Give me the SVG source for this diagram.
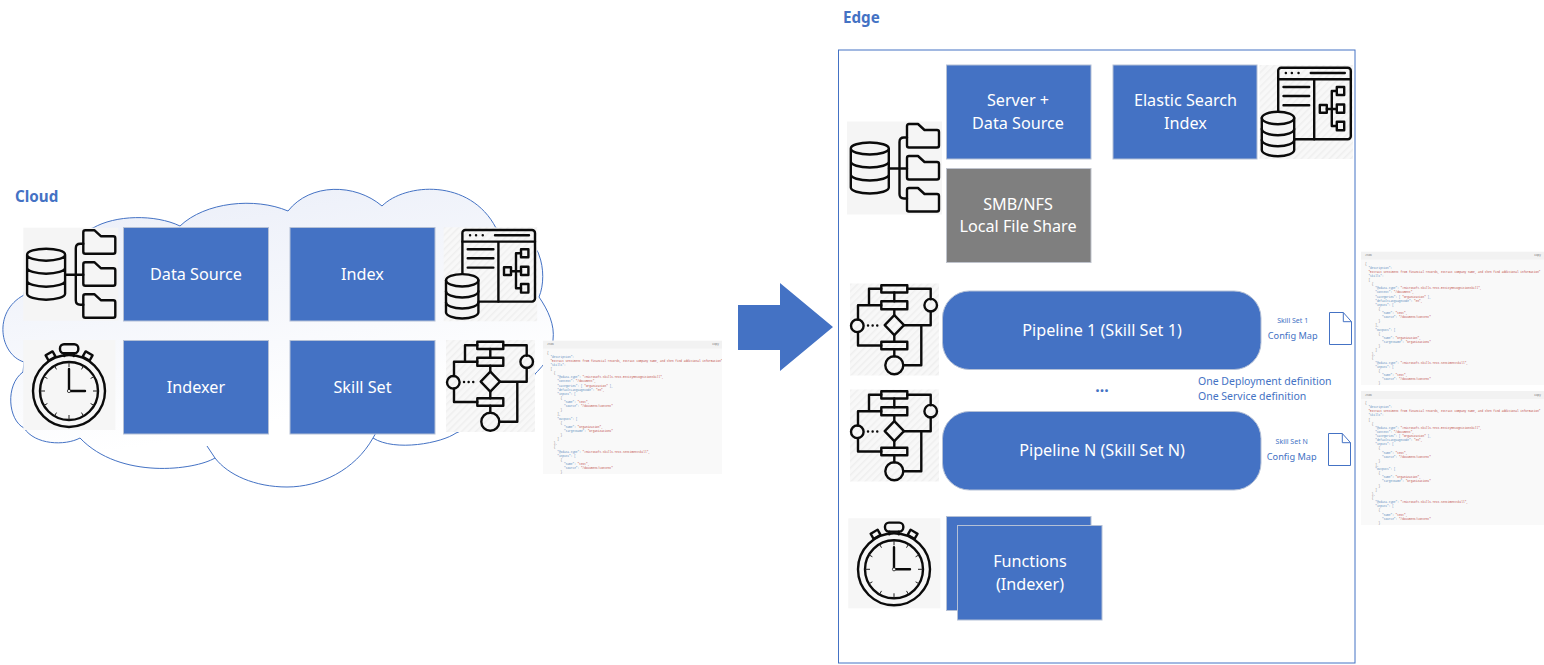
<svg xmlns="http://www.w3.org/2000/svg" xmlns:xlink="http://www.w3.org/1999/xlink" width="1544" height="665" viewBox="0 0 1544 665">
<style>
text{font-family:"Noto Sans","Open Sans","Liberation Sans",sans-serif}
.box{fill:#4472c4;stroke:#b4c0d6;stroke-width:1}
.grey{fill:#7f7f7f;stroke:#bfc3cc;stroke-width:1}
.lbl{fill:#fff;font-size:16.2px;text-anchor:middle}
.head{fill:#4472c4;font-size:15.200px;font-weight:700}
.note{fill:#4472c4;text-anchor:middle}
.ic{fill:none;stroke:#0b0b0b;stroke-width:2.4;stroke-linecap:round;stroke-linejoin:round}
.icf{fill:#f5f5f5;stroke:#0b0b0b;stroke-width:2.4;stroke-linejoin:round}
.thin{fill:none;stroke:#4472c4;stroke-width:1}
.doc{fill:#fff;stroke:#4472c4;stroke-width:1}
.js{font-family:"Liberation Mono",monospace;font-size:2.82px;fill:#777}
.k{fill:#5b8cbd}.s{fill:#bd4a46}
</style>
<defs>
<linearGradient id="cloudFill" x1="0" y1="0" x2="0.35" y2="1"><stop offset="0" stop-color="#e9edf8"/><stop offset="0.85" stop-color="#ffffff"/></linearGradient>
<pattern id="hatch" width="5" height="5" patternUnits="userSpaceOnUse" patternTransform="rotate(45)"><rect width="5" height="5" fill="#f8f8f8"/><rect width="1.5" height="5" fill="#efefef"/></pattern>
<symbol id="dbFolders" overflow="visible">
<rect width="95" height="93" fill="#f5f5f5"/>
<path class="icf" d="M60,4.500q0-2 2-2h9l6.500,6h12.500q2 0 2 2v13.500q0 2-2 2h-28q-2 0-2-2z"/>
<path class="icf" d="M60,36.500q0-2 2-2h9l6.500,6h12.500q2 0 2 2v13.500q0 2-2 2h-28q-2 0-2-2z"/>
<path class="icf" d="M60,68.500q0-2 2-2h9l6.500,6h12.500q2 0 2 2v13.500q0 2-2 2h-28q-2 0-2-2z"/>
<path class="ic" d="M42,47H60M60,16H57q-4.500 0-4.500 4.500V72.500q0 4.500 4.500 4.500H60"/>
<path class="ic" d="M3.800,27a19,6 0 0 1 38,0V66a19,6 0 0 1-38,0ZM3.800,27a19,6 0 0 0 38,0M3.800,40a19,6 0 0 0 38,0M3.800,53a19,6 0 0 0 38,0"/>
</symbol>
<symbol id="indexDb" overflow="visible">
<rect width="93.500" height="94" fill="url(#hatch)"/>
<rect class="ic" x="18.700" y="2.700" width="72.600" height="71.600" rx="3"/>
<path class="ic" d="M18.700,14.300H91.300M54.700,14.300V74.300M24,22H49.700M24,31H49.700M24,40.300H49.700M51.300,8H85.300"/>
<path class="ic" stroke-width="3" d="M26.300,8h.1M32.300,8h.1M39,8h.1"/>
<path class="ic" d="M67.300,44H77.300M72.300,26V61M72.300,26H77.300M72.300,61H77.300"/>
<rect class="ic" x="60.300" y="40" width="7" height="7.700"/><rect class="ic" x="77.300" y="22" width="7.400" height="8"/><rect class="ic" x="77.300" y="39.500" width="7.400" height="8.200"/><rect class="ic" x="77.300" y="56.700" width="7.400" height="8.600"/>
<path class="icf" d="M2.300,53a16.200,6.200 0 0 1 32.400,0V85a16.200,6.200 0 0 1-32.400,0Z"/>
<path class="ic" d="M2.300,53a16.200,6.200 0 0 0 32.400,0M2.300,64a16.200,6.200 0 0 0 32.400,0M2.300,75a16.200,6.200 0 0 0 32.400,0"/>
</symbol>
<symbol id="skillFlow" overflow="visible">
<rect width="89" height="92" fill="url(#hatch)"/>
<path class="ic" d="M31.300,5.300H19V21.700M31.300,21.700H8V36M8,48.500V62H31.300M57.300,5.300H80.700V15.700M80.700,28V41.700H54M71.300,41.700V81.700H53.300M44.300,9V17.700M44.300,25.700V31.700M44.300,51.700V58.300M44.300,65.700V72.700"/>
<path class="ic" stroke-dasharray="0.100 4.500" d="M18,42H29"/>
<rect class="ic" x="31.300" y="1.700" width="26" height="7.300"/><rect class="ic" x="31.300" y="17.700" width="26" height="8"/><rect class="ic" x="31.300" y="58.300" width="26" height="7.400"/>
<path class="ic" d="M44.300,31.700L54,41.700L44.300,51.700L34.700,41.700Z"/>
<circle class="ic" cx="44.300" cy="81.700" r="9"/><circle class="ic" cx="80.700" cy="21.700" r="6.300"/><circle class="ic" cx="7.300" cy="42.300" r="6.300"/>
</symbol>
<symbol id="watch" overflow="visible">
<rect width="92" height="90" fill="#f6f6f6"/>
<rect class="ic" x="36.700" y="4.300" width="18.300" height="9" rx="4"/>
<path class="ic" d="M41,13.300V16M50.500,13.300V16"/>
<rect class="ic" x="-4" y="-3" width="8" height="6" transform="translate(27.300 16) rotate(-30)"/>
<rect class="ic" x="-4" y="-3" width="8" height="6" transform="translate(64.300 16) rotate(30)"/>
<circle class="ic" cx="45.700" cy="51" r="36"/><circle class="ic" cx="45.700" cy="51" r="29"/>
<g transform="translate(45.700 51)" stroke="#222" stroke-width="1" fill="none"><path d="M0,-29V-24M0,29V24M-29,0H-24M29,0H24M14.500,-25.100L12.500,-21.600M25.100,-14.500L21.600,-12.500M25.100,14.500L21.600,12.500M14.500,25.100L12.500,21.600M-14.500,25.100L-12.500,21.600M-25.100,14.500L-21.600,12.500M-25.100,-14.500L-21.600,-12.500M-14.500,-25.100L-12.500,-21.600"/></g>
<path class="ic" d="M45.700,29V49.500M47.200,51H61.700"/>
<circle cx="45.700" cy="51" r="1.600" fill="#fff" stroke="#111" stroke-width="0.800"/>
</symbol>
<symbol id="jsonPanel">
<rect width="100%" height="100%" fill="#f9f9f9"/>
<rect width="100%" height="8" fill="#f2f2f2"/>
<text class="js" x="4" y="4.800">JSON</text>
<text class="js" x="100%" y="4.800" dx="-3" text-anchor="end">Copy</text>
<text class="js">
<tspan x="4" y="13">{</tspan>
<tspan x="7.400" y="17.130" class="k">"description":</tspan>
<tspan x="7.400" y="21.260" class="s">"Extract sentiment from financial records, extract company name, and then find additional information"</tspan>
<tspan x="7.400" y="25.390" class="k">"skills":</tspan>
<tspan x="7.400" y="29.520">[</tspan>
<tspan x="10.800" y="33.650">{</tspan>
<tspan x="14.200" y="37.780" class="k">"@odata.type": <tspan class="s">"#Microsoft.Skills.Text.EntityRecognitionSkill",</tspan></tspan>
<tspan x="14.200" y="41.910" class="k">"context": <tspan class="s">"/document",</tspan></tspan>
<tspan x="14.200" y="46.040" class="k">"categories": [ <tspan class="s">"Organization"</tspan> ],</tspan>
<tspan x="14.200" y="50.170" class="k">"defaultLanguageCode": <tspan class="s">"en",</tspan></tspan>
<tspan x="14.200" y="54.300" class="k">"inputs": [</tspan>
<tspan x="17.600" y="58.430">{</tspan>
<tspan x="21" y="62.560" class="k">"name": <tspan class="s">"text",</tspan></tspan>
<tspan x="21" y="66.690" class="k">"source": <tspan class="s">"/document/content"</tspan></tspan>
<tspan x="17.600" y="70.820">}</tspan>
<tspan x="14.200" y="74.950">],</tspan>
<tspan x="14.200" y="79.080" class="k">"outputs": [</tspan>
<tspan x="17.600" y="83.210">{</tspan>
<tspan x="21" y="87.340" class="k">"name": <tspan class="s">"organization",</tspan></tspan>
<tspan x="21" y="91.470" class="k">"targetName": <tspan class="s">"organizations"</tspan></tspan>
<tspan x="17.600" y="95.600">}</tspan>
<tspan x="14.200" y="99.730">]</tspan>
<tspan x="10.800" y="103.860">},</tspan>
<tspan x="10.800" y="107.990">{</tspan>
<tspan x="14.200" y="112.120" class="k">"@odata.type": <tspan class="s">"#Microsoft.Skills.Text.SentimentSkill",</tspan></tspan>
<tspan x="14.200" y="116.250" class="k">"inputs": [</tspan>
<tspan x="17.600" y="120.380">{</tspan>
<tspan x="21" y="124.510" class="k">"name": <tspan class="s">"text",</tspan></tspan>
<tspan x="21" y="128.640" class="k">"source": <tspan class="s">"/document/content"</tspan></tspan>
<tspan x="17.600" y="132.770">}</tspan>
</text>
</symbol>
</defs>
<rect width="1544" height="665" fill="#fff"/>

<g id="cloud">
<path fill="url(#cloudFill)" stroke="#4472c4" stroke-width="1" d="M24,295C27,255 60,236 93,228C115,215 155,214 180,226C205,202 255,197 288,211C310,183 355,183 382,206C405,183 470,178 496,228C515,232 537,245 539,255C544,268 544,285 539,297C548,310 555,325 553,340C553,350 549,360 535,374C530,395 500,415 456,433C442,443 395,452 373,438C355,470 320,487 287,487C255,487 228,475 215,458C195,470 120,480 80,438C65,446 35,445 24,428C8,420 5,385 23,372L24,362C0,355 -8,312 24,295Z"/>
<path class="thin" d="M215,458L207,446M373,438L377,431"/>
</g>
<text id="cloud-label" class="head" x="15" y="202">Cloud</text>

<g id="data-source-icon"><use href="#dbFolders" x="23.300" y="227.700"/></g>
<g id="data-source"><rect class="box" x="123.500" y="227.500" width="145" height="93.500"/><text class="lbl" x="196" y="280">Data Source</text></g>
<g id="index"><rect class="box" x="290" y="227.500" width="145" height="93.500"/><text class="lbl" x="362.500" y="280">Index</text></g>
<g id="index-icon"><use href="#indexDb" x="443.700" y="227.300"/></g>
<g id="indexer-icon"><use href="#watch" x="23.300" y="340"/></g>
<g id="indexer"><rect class="box" x="123.500" y="340.500" width="145" height="93.500"/><text class="lbl" x="196" y="393">Indexer</text></g>
<g id="skill-set"><rect class="box" x="290" y="340.500" width="145" height="93.500"/><text class="lbl" x="362.500" y="393">Skill Set</text></g>
<g id="skill-set-icon"><use href="#skillFlow" x="446" y="340"/></g>
<g id="skill-set-json"><use href="#jsonPanel" x="543" y="340.500" width="179" height="133.500"/></g>

<g id="connectors">
<path fill="#4472c4" d="M738,305H780V283L833,327L780,371V350H738Z"/>
</g>

<text id="edge-label" class="head" x="843" y="23">Edge</text>
<g id="edge"><rect x="838.500" y="50" width="516.500" height="613" fill="#fff" stroke="#4472c4" stroke-width="1"/></g>

<g id="edge-data-icon"><use href="#dbFolders" x="847" y="121.500"/></g>
<g id="server-data-source"><rect class="box" x="946.500" y="65" width="144.500" height="94"/><text class="lbl" x="1018" y="106">Server +</text><text class="lbl" x="1018" y="129">Data Source</text></g>
<g id="smb-nfs"><rect class="grey" x="946.500" y="168.500" width="144.500" height="94"/><text class="lbl" x="1018" y="210">SMB/NFS</text><text class="lbl" x="1018" y="232">Local File Share</text></g>
<g id="elastic-search-index"><rect class="box" x="1113" y="65" width="144" height="94"/><text class="lbl" x="1185.500" y="106">Elastic Search</text><text class="lbl" x="1185.500" y="129">Index</text></g>
<g id="edge-index-icon"><use href="#indexDb" x="1259.500" y="65"/></g>

<g id="pipeline-1-icon"><use href="#skillFlow" x="850" y="283.500"/></g>
<g id="pipeline-1"><rect class="box" x="942.500" y="291" width="318.500" height="78.500" rx="27"/><text class="lbl" x="1102" y="336">Pipeline 1 (Skill Set 1)</text></g>
<text id="ellipsis" x="1102" y="392" fill="#4472c4" font-size="16" font-weight="700" text-anchor="middle">...</text>
<g id="pipeline-n-icon"><use href="#skillFlow" x="850" y="389.500"/></g>
<g id="pipeline-n"><rect class="box" x="942.500" y="411.500" width="318.500" height="78.500" rx="27"/><text class="lbl" x="1102" y="456">Pipeline N (Skill Set N)</text></g>

<g id="deployment-note"><text fill="#4472c4" font-size="10.500" x="1198" y="384.500">One Deployment definition</text><text fill="#4472c4" font-size="10.500" x="1198" y="399.500">One Service definition</text></g>

<g id="config-map-1"><text class="note" font-size="7" x="1292.700" y="322.500">Skill Set 1</text><text class="note" font-size="9.200" x="1292.700" y="339">Config Map</text>
<path class="doc" d="M1329.500,312.500H1343.300L1351.500,321.700V344.500H1329.500Z"/><path class="thin" d="M1343.300,312.500V321.700H1351.500"/></g>
<g id="config-map-n"><text class="note" font-size="7" x="1291.700" y="444">Skill Set N</text><text class="note" font-size="9.200" x="1291.700" y="460">Config Map</text>
<path class="doc" d="M1328.500,433.500H1342.300L1350.500,442.700V465.500H1328.500Z"/><path class="thin" d="M1342.300,433.500V442.700H1350.500"/></g>

<g id="json-1"><use href="#jsonPanel" x="1361" y="251.500" width="183" height="133.500"/></g>
<g id="json-n"><use href="#jsonPanel" x="1361" y="391" width="183" height="134"/></g>

<g id="functions-icon"><use href="#watch" x="848.300" y="518.300"/></g>
<g id="functions"><rect class="box" x="946.500" y="516.500" width="144.500" height="94"/><rect class="box" x="957.500" y="525.500" width="144.500" height="94.500"/><text class="lbl" x="1030" y="567">Functions</text><text class="lbl" x="1030" y="590">(Indexer)</text></g>
</svg>
